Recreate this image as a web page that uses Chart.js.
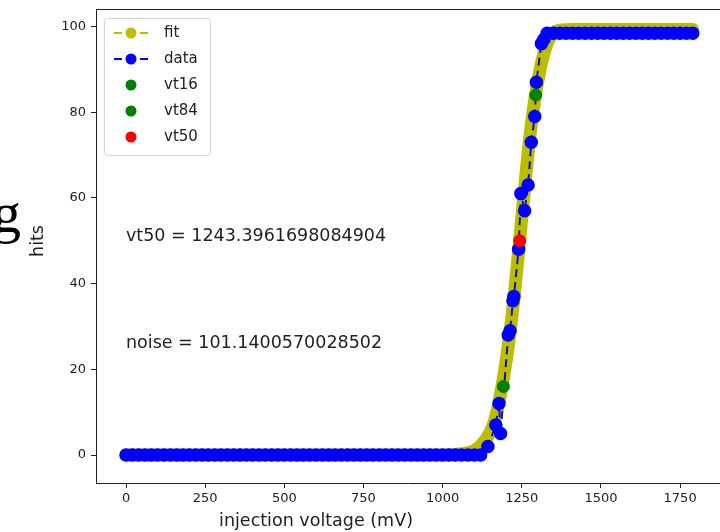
<!DOCTYPE html>
<html>
<head>
<meta charset="utf-8">
<script src="https://cdn.jsdelivr.net/npm/chart.js@4.4.1/dist/chart.umd.min.js"></script>
<style>
  html, body { margin: 0; padding: 0; background: #fff; overflow: hidden; }
  #wrap { position: relative; width: 720px; height: 532px; overflow: hidden; }
  #grafico { position: absolute; left: 0; top: 0; }
  /* pedaço de letra cortado na borda esquerda da captura */
  #corte { position: absolute; left: -8px; top: 183px; font: 58px/60px "Liberation Serif", "DejaVu Serif", serif; color: #000; }
</style>
</head>
<body>
<div id="wrap">
  <canvas id="grafico" width="720" height="532"></canvas>
  <span id="corte">g</span>
</div>
<script>
// --- Dados ---
// data: varredura de tensão (mV) e hits
const dataVoltage = [
  0, 20, 40, 60, 80, 100, 120, 140, 160, 180, 200, 220, 240, 260, 280, 300, 320, 340, 360, 380,
  400, 420, 440, 460, 480, 500, 520, 540, 560, 580, 600, 620, 640, 660, 680, 700, 720, 740, 760, 780,
  800, 820, 840, 860, 880, 900, 920, 940, 960, 980, 1000, 1020, 1040, 1060, 1080, 1100, 1120,
  1143, 1168, 1178, 1183, 1207, 1213, 1222, 1225, 1240, 1247, 1259, 1270, 1280, 1291, 1296, 1312, 1320,
  1330, 1350, 1370, 1390, 1410, 1430, 1450, 1470, 1490, 1510, 1530, 1550, 1570, 1590, 1610, 1630,
  1650, 1670, 1690, 1710, 1730, 1750, 1770, 1790
];
const dataHits = [
  0, 0, 0, 0, 0, 0, 0, 0, 0, 0, 0, 0, 0, 0, 0, 0, 0, 0, 0, 0,
  0, 0, 0, 0, 0, 0, 0, 0, 0, 0, 0, 0, 0, 0, 0, 0, 0, 0, 0, 0,
  0, 0, 0, 0, 0, 0, 0, 0, 0, 0, 0, 0, 0, 0, 0, 0, 0,
  2, 7, 12, 5, 28, 29, 36, 37, 48, 61, 57, 63, 73, 79, 87, 96, 97,
  98.4, 98.4, 98.4, 98.4, 98.4, 98.4, 98.4, 98.4, 98.4, 98.4, 98.4, 98.4, 98.4, 98.4, 98.4, 98.4,
  98.4, 98.4, 98.4, 98.4, 98.4, 98.4, 98.4, 98.4
];

const fitVoltage = [0, 1000, 1060, 1100, 1130, 1160, 1185, 1210, 1230, 1243, 1256, 1275, 1300, 1325, 1350, 1380, 1420, 1790];
const fitHits = [0, 0, 0.3, 1, 3, 7, 15, 27, 40, 50, 60, 74, 87, 95, 98.5, 99.2, 99.3, 99.3];

// pontos característicos
const vt16Point = [1192, 16];
const vt84Point = [1294, 84];
const vt50Point = [1243.3961698084904, 50];

// textos e eixos
const noteTexts = ['vt50 = 1243.3961698084904', 'noise = 101.1400570028502'];
const noteX = [0, 0];
const noteY = [50, 25];
const xTicks = [0, 250, 500, 750, 1000, 1250, 1500, 1750];
const yTicks = [0, 20, 40, 60, 80, 100];
const xTitle = 'injection voltage (mV)';
const yTitle = 'hits';
const legendLabels = ['fit', 'data', 'vt16', 'vt84', 'vt50'];

const canvas = document.getElementById('grafico');
const TEXT = '#222';
const FONT = '"DejaVu Sans", sans-serif';

function toPoints(xs, ys) {
    return xs.map((v, i) => ({ x: v, y: ys[i] }));
}

// Moldura superior, textos, títulos dos eixos
const extrasPlugin = {
    id: 'extras',
    afterDatasetsDraw(chart) {
        const { ctx, chartArea, scales: { x, y } } = chart;
        ctx.save();
        ctx.strokeStyle = TEXT;
        ctx.lineWidth = 1;
        ctx.beginPath();
        ctx.moveTo(chartArea.left, chartArea.top + 0.5);
        ctx.lineTo(chartArea.right, chartArea.top + 0.5);
        ctx.stroke();

        ctx.fillStyle = TEXT;
        ctx.font = '17.5px ' + FONT;
        ctx.textBaseline = 'alphabetic';
        ctx.textAlign = 'left';
        noteTexts.forEach((t, i) => {
            ctx.fillText(t, x.getPixelForValue(noteX[i]), y.getPixelForValue(noteY[i]));
        });

        // títulos dos eixos
        ctx.textAlign = 'center';
        ctx.textBaseline = 'middle';
        ctx.fillText(xTitle, 316, 521);
        ctx.translate(38, 241);
        ctx.rotate(-Math.PI / 2);
        ctx.fillText(yTitle, 0, 0);
        ctx.restore();
    },
    afterDraw(chart) {
        // legenda no estilo matplotlib
        const ctx = chart.ctx;
        ctx.save();
        ctx.fillStyle = 'rgba(255,255,255,0.85)';
        ctx.strokeStyle = '#d4d4d4';
        ctx.lineWidth = 1;
        ctx.beginPath();
        ctx.roundRect(104.5, 18.5, 106, 137, 3);
        ctx.fill();
        ctx.stroke();
        ctx.font = '15px ' + FONT;
        ctx.textBaseline = 'middle';
        ctx.textAlign = 'left';
        legendLabels.forEach((lbl, i) => {
            const ds = chart.data.datasets.find(d => d.label === lbl);
            const cy = 33 + i * 26;
            if (ds.legendLine) {
                ctx.strokeStyle = ds.legendLine;
                ctx.lineWidth = 2;
                ctx.setLineDash([8, 5]);
                ctx.beginPath();
                ctx.moveTo(114, cy);
                ctx.lineTo(150, cy);
                ctx.stroke();
                ctx.setLineDash([]);
            }
            ctx.fillStyle = ds.legendMarker;
            ctx.beginPath();
            ctx.arc(131, cy, 5.5, 0, Math.PI * 2);
            ctx.fill();
            ctx.fillStyle = TEXT;
            ctx.fillText(lbl, 164, cy);
        });
        ctx.restore();
    }
};

function pointSet(label, pt, color, order) {
    return {
        label: label,
        data: [{ x: pt[0], y: pt[1] }],
        showLine: false,
        pointRadius: 6,
        pointBackgroundColor: color,
        pointBorderColor: color,
        pointBorderWidth: 1,
        legendMarker: color,
        order: order
    };
}

const datasets = [
    {
        label: 'fit',
        data: toPoints(fitVoltage, fitHits),
        borderColor: '#bdbd00',
        borderWidth: 13,
        borderCapStyle: 'round',
        borderJoinStyle: 'round',
        cubicInterpolationMode: 'monotone',
        pointRadius: 0,
        legendLine: '#bfbf00',
        legendMarker: '#bfbf00',
        order: 4
    },
    {
        label: 'data',
        data: toPoints(dataVoltage, dataHits),
        borderColor: '#1010c0',
        borderWidth: 2,
        borderDash: [8, 5],
        pointRadius: 6,
        pointBackgroundColor: '#0000ff',
        pointBorderColor: '#0000ff',
        pointBorderWidth: 1.5,
        legendLine: '#0000ff',
        legendMarker: '#0000ff',
        order: 3
    },
    pointSet('vt16', vt16Point, '#008000', 2),
    pointSet('vt84', vt84Point, '#008000', 1),
    pointSet('vt50', vt50Point, '#ff0000', 0)
];

// remove o preenchimento automático que o Chart.js reserva para os rótulos
function fixBox(s, key, size) {
    s[key] = size;
    s.paddingLeft = 0;
    s.paddingRight = 0;
    s.paddingTop = 0;
    s.paddingBottom = 0;
}

const axisCommon = {
    type: 'linear',
    border: { display: true, color: TEXT, width: 1 },
    grid: { display: true, drawOnChartArea: false, drawTicks: true, tickLength: 5, color: TEXT },
    title: { display: false }
};

new Chart(canvas.getContext('2d'), {
    type: 'line',
    data: { datasets: datasets },
    options: {
        responsive: false,
        animation: false,
        devicePixelRatio: 1,
        layout: { autoPadding: false, padding: { top: 9, right: 0, bottom: 0, left: 0 } },
        plugins: { legend: { display: false }, tooltip: { enabled: false } },
        scales: {
            x: {
                ...axisCommon,
                min: -94.8,
                max: 1876,
                ticks: { color: TEXT, font: { family: FONT, size: 13 }, padding: 3, maxRotation: 0, callback: v => String(v) },
                afterBuildTicks: s => { s.ticks = xTicks.map(v => ({ value: v })); },
                afterFit: s => fixBox(s, 'height', 49)
            },
            y: {
                ...axisCommon,
                min: -6.53,
                max: 104.08,
                ticks: { color: TEXT, font: { family: FONT, size: 13 }, padding: 5, callback: v => String(v) },
                afterBuildTicks: s => { s.ticks = yTicks.map(v => ({ value: v })); },
                afterFit: s => fixBox(s, 'width', 96)
            }
        }
    },
    plugins: [extrasPlugin]
});
</script>
</body>
</html>
